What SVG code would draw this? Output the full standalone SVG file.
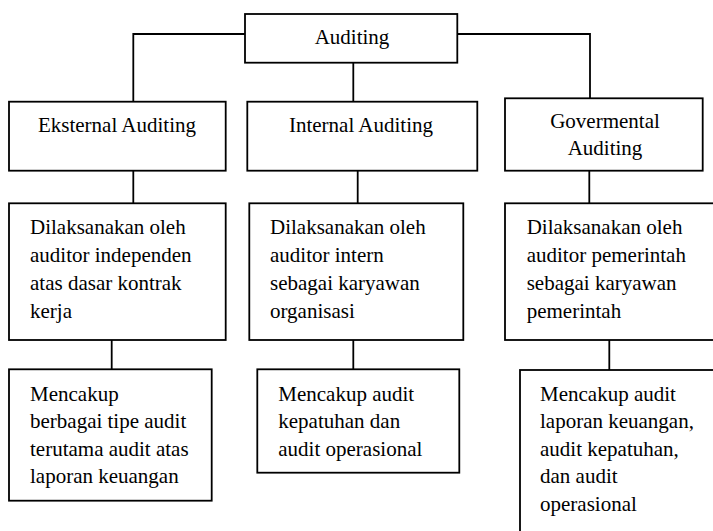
<svg xmlns="http://www.w3.org/2000/svg" width="713" height="531" viewBox="0 0 713 531">
<style>
.box{fill:#fff;stroke:#000;stroke-width:1.8}
.ln{fill:none;stroke:#000;stroke-width:1.8}
text{font-family:"Liberation Serif","Times New Roman",serif;font-size:21px;fill:#000}
.c{text-anchor:middle}
</style>
<rect width="713" height="531" fill="#fff"/>
<g id="connectors">
<polyline class="ln" points="245,34 133.3,34 133.3,101.7"/>
<polyline class="ln" points="457.3,34 590,34 590,98.3"/>
<line class="ln" x1="353.3" y1="62.7" x2="353.3" y2="101.7"/>
<line class="ln" x1="133.3" y1="170.7" x2="133.3" y2="203.3"/>
<line class="ln" x1="357.7" y1="170.7" x2="357.7" y2="203.3"/>
<line class="ln" x1="589.3" y1="170.7" x2="589.3" y2="203.3"/>
<line class="ln" x1="111.7" y1="340" x2="111.7" y2="369.3"/>
<line class="ln" x1="353.3" y1="340" x2="353.3" y2="369.3"/>
<line class="ln" x1="609.3" y1="340" x2="609.3" y2="370"/>
</g>
<g id="auditing">
<rect class="box" x="245" y="14" width="212.3" height="48.7"/>
<text class="c" x="352" y="44.3">Auditing</text>
</g>
<g id="eksternal">
<rect class="box" x="9" y="101.7" width="216.7" height="69"/>
<text class="c" x="117" y="131.7">Eksternal Auditing</text>
</g>
<g id="internal">
<rect class="box" x="247.3" y="101.7" width="230" height="69"/>
<text class="c" x="361" y="131.7">Internal Auditing</text>
</g>
<g id="govermental">
<rect class="box" x="505" y="98.3" width="197.7" height="72.4"/>
<text class="c" x="605" y="127.7">Govermental</text>
<text class="c" x="605" y="155">Auditing</text>
</g>
<g id="eksternal-desc">
<rect class="box" x="9" y="203.3" width="216.7" height="136.7"/>
<text x="30" y="233.5">Dilaksanakan oleh</text>
<text x="30" y="261.5">auditor independen</text>
<text x="30" y="289.5">atas dasar kontrak</text>
<text x="30" y="317.5">kerja</text>
</g>
<g id="internal-desc">
<rect class="box" x="249.3" y="203.3" width="214" height="136.7"/>
<text x="270" y="233.5">Dilaksanakan oleh</text>
<text x="270" y="261.5">auditor intern</text>
<text x="270" y="289.5">sebagai karyawan</text>
<text x="270" y="317.5">organisasi</text>
</g>
<g id="govermental-desc">
<rect class="box" x="505" y="203.3" width="220" height="136.7"/>
<text x="526.7" y="233.5">Dilaksanakan oleh</text>
<text x="526.7" y="261.5">auditor pemerintah</text>
<text x="526.7" y="289.5">sebagai karyawan</text>
<text x="526.7" y="317.5">pemerintah</text>
</g>
<g id="eksternal-scope">
<rect class="box" x="9" y="369.3" width="202.7" height="131.4"/>
<text x="30" y="400.5">Mencakup</text>
<text x="30" y="428">berbagai tipe audit</text>
<text x="30" y="455.5">terutama audit atas</text>
<text x="30" y="483">laporan keuangan</text>
</g>
<g id="internal-scope">
<rect class="box" x="257.3" y="369.3" width="202" height="103.4"/>
<text x="278.3" y="400.5">Mencakup audit</text>
<text x="278.3" y="428">kepatuhan dan</text>
<text x="278.3" y="455.5">audit operasional</text>
</g>
<g id="govermental-scope">
<rect class="box" x="520" y="370" width="210" height="180"/>
<text x="540" y="400.5">Mencakup audit</text>
<text x="540" y="428">laporan keuangan,</text>
<text x="540" y="455.5">audit kepatuhan,</text>
<text x="540" y="483">dan audit</text>
<text x="540" y="510.8">operasional</text>
</g>
</svg>
